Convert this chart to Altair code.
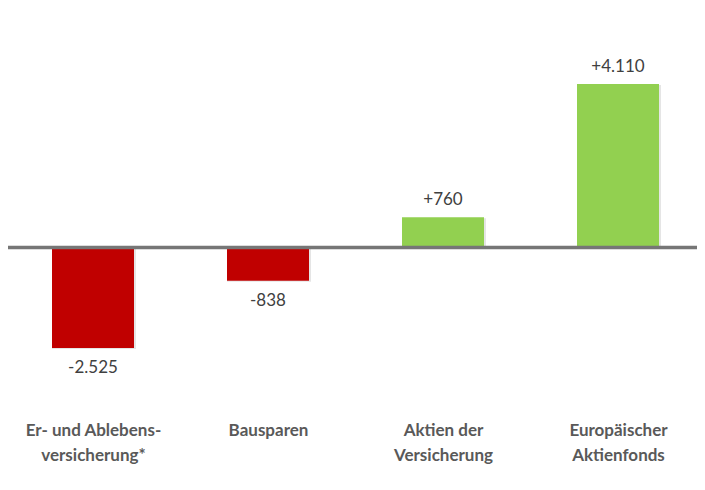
import json
import altair as alt
import pandas as pd

categories = ["Er- und Ablebens-|versicherung*", "Bausparen", "Aktien der|Versicherung", "Europäischer|Aktienfonds"]
positions = [0, 1, 2, 3]
values = [-2525, -838, 760, 4110]
labels = ["-2.525", "-838", "+760", "+4.110"]
colors = ["#C00000", "#C00000", "#92D050", "#92D050"]

df = pd.DataFrame({"pos": positions, "cat": categories, "value": values, "label": labels, "color": colors})

W = 689
x_scale = alt.Scale(domain=[-85 / 175, (W - 85) / 175], nice=False, zero=False, padding=0)
y_scale = alt.Scale(domain=[-4133, 6017], nice=False, zero=False, padding=0)

label_expr = "split(" + json.dumps(categories) + "[datum.value], '|')"

x_axis = alt.Axis(title=None, orient="bottom", domain=False, ticks=False, grid=False,
                  values=positions, labelExpr=label_expr, labelFlush=False,
                  labelOverlap=False, labelBound=False, labelAngle=0, labelAlign="center",
                  labelFont="Lato", labelFontWeight="bold", labelFontSize=17,
                  labelColor="#595959", labelPadding=10, labelLineHeight=25,
                  labelBaseline="top")

base = alt.Chart(df)

shadow = base.mark_bar(size=84, color="#000000", opacity=0.10, xOffset=1, yOffset=1).encode(
    x=alt.X("pos:Q", scale=x_scale, axis=x_axis),
    y=alt.Y("value:Q", scale=y_scale, axis=None),
    y2=alt.datum(0),
)

bars = base.mark_bar(size=82).encode(
    x=alt.X("pos:Q", scale=x_scale),
    y=alt.Y("value:Q", scale=y_scale),
    y2=alt.datum(0),
    color=alt.Color("color:N", scale=None),
)

pos_text = base.transform_filter("datum.value > 0").mark_text(
    dy=-17, baseline="middle", font="Lato", fontSize=17, color="#404040"
).encode(x=alt.X("pos:Q", scale=x_scale), y=alt.Y("value:Q", scale=y_scale), text="label:N")

neg_text = base.transform_filter("datum.value < 0").mark_text(
    dy=20, baseline="middle", font="Lato", fontSize=17, color="#404040"
).encode(x=alt.X("pos:Q", scale=x_scale), y=alt.Y("value:Q", scale=y_scale), text="label:N")

zero_line = alt.Chart(pd.DataFrame({"z": [0]})).mark_rule(color="#767676", strokeWidth=3.5).encode(
    y=alt.Y("z:Q", scale=y_scale), x=alt.value(0), x2=alt.value(W)
)

chart = alt.layer(shadow, bars, zero_line, pos_text, neg_text).properties(
    width=W, height=404,
    padding={"left": 0, "top": 0, "right": 0, "bottom": 64},
    autosize=alt.AutoSizeParams(type="none"),
    background="white",
).configure_view(stroke=None)

chart.save("out.html", embed_options={"renderer": "svg", "actions": False})
